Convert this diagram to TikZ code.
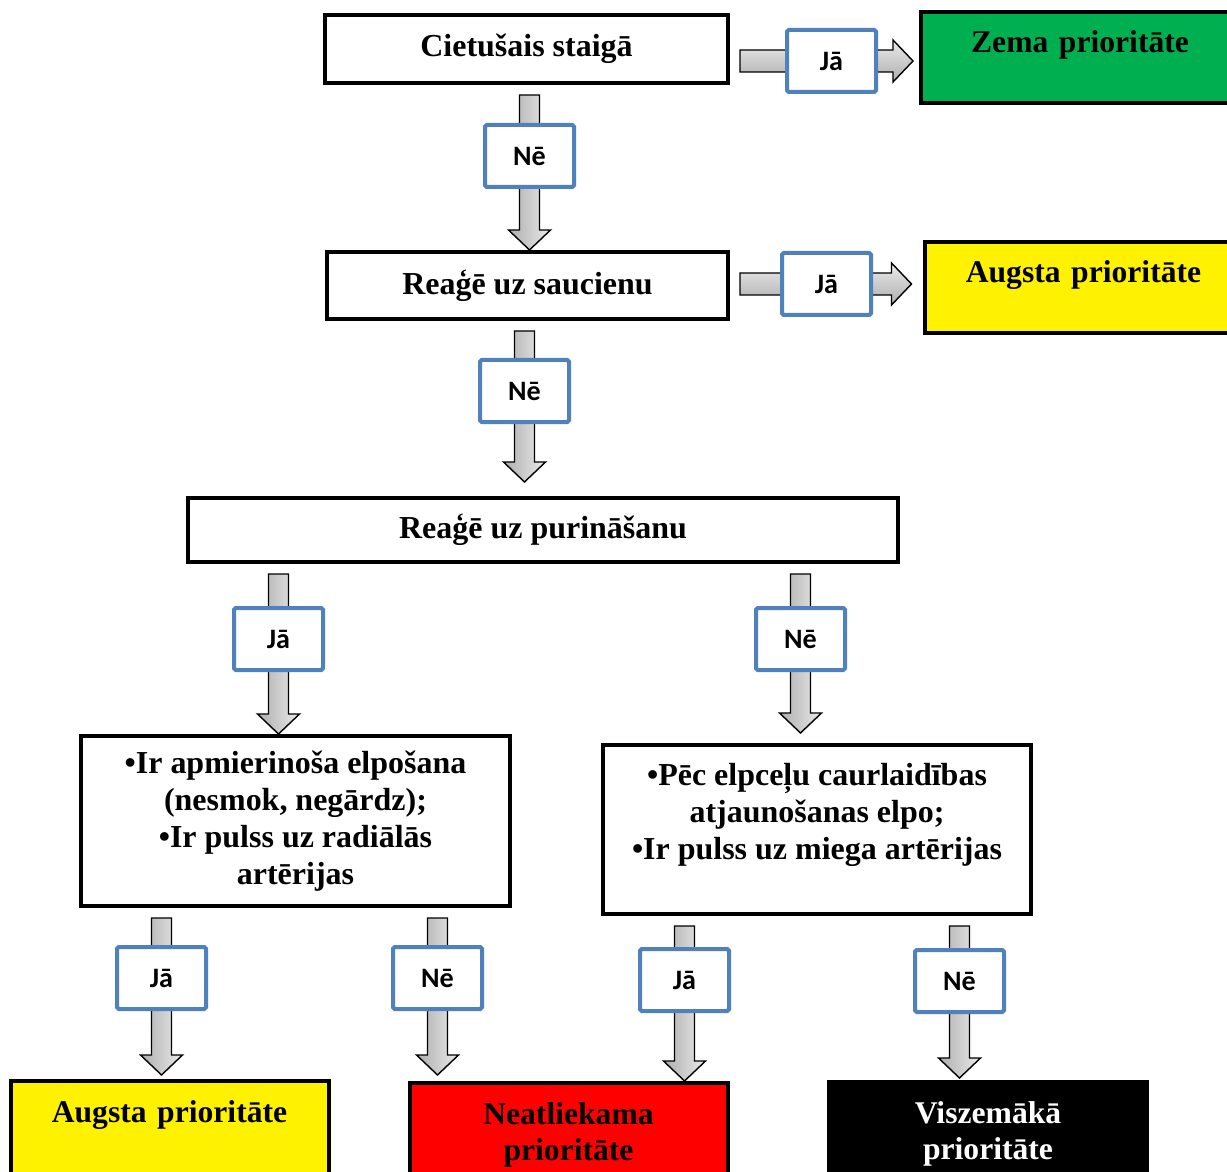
\documentclass[tikz,border=0pt]{standalone}
\usepackage{fontspec}
\setmainfont{Liberation Serif}
\newfontfamily\lblfont{Carlito}
\usetikzlibrary{calc,backgrounds}

\definecolor{lblblue}{HTML}{4F81BD}
\definecolor{zgreen}{HTML}{00B050}
\newcommand{\pxl}{0.02cm}

\tikzset{
  question/.style={draw, line width=4*\pxl, fill=white, align=center, inner sep=0pt,
    font=\bfseries\fontsize{18.2}{21}\selectfont},
  outcome/.style={draw, line width=4*\pxl, anchor=north, inner sep=0pt, align=center,
    minimum width=318*\pxl, text width=310*\pxl, text height=41*\pxl, text depth=50*\pxl,
    font=\bfseries\fontsize{18}{20.5}\selectfont},
  answer/.style={draw=lblblue, line width=4*\pxl, fill=white, rounded corners=1pt,
    minimum width=89*\pxl, minimum height=62*\pxl, inner sep=0pt,
    font=\lblfont\bfseries\fontsize{16}{19}\selectfont},
  downbody/.style={draw=black, line width=0.8pt, left color=black!32, right color=black!8},
  rightbody/.style={draw=black, line width=0.8pt, top color=black!8, bottom color=black!32},
  blockdown/.style={to path={let \p1=(\tikztostart), \p2=(\tikztotarget) in
    (\x1-10*\pxl,\y1-10*\pxl) -- (\x1+10*\pxl,\y1-10*\pxl)
    -- (\x1+10*\pxl,\y2+#1*\pxl+20*\pxl) -- (\x1+21*\pxl,\y2+#1*\pxl+20*\pxl)
    -- (\x1,\y2+#1*\pxl) -- (\x1-21*\pxl,\y2+#1*\pxl+20*\pxl)
    -- (\x1-10*\pxl,\y2+#1*\pxl+20*\pxl) -- cycle}},
  blockdown/.default=0,
  blockright/.style={to path={let \p1=(\tikztostart), \p2=(\tikztotarget) in
    (\x1+10*\pxl,\y1-11*\pxl) -- (\x2-#1*\pxl-20*\pxl,\y1-11*\pxl)
    -- (\x2-#1*\pxl-20*\pxl,\y1-21*\pxl) -- (\x2-#1*\pxl,\y1)
    -- (\x2-#1*\pxl-20*\pxl,\y1+21*\pxl) -- (\x2-#1*\pxl-20*\pxl,\y1+11*\pxl)
    -- (\x1+10*\pxl,\y1+11*\pxl) -- cycle}},
  blockright/.default=0
}

\begin{document}
\begin{tikzpicture}[x=0.02cm, y=-0.02cm]

    \useasboundingbox (0,0) rectangle (1227,1172);
    \clip (0,0) rectangle (1227,1172);

    % Questions
    \node[question, minimum width=403*\pxl, minimum height=68*\pxl] (staiga) at (526.5,49) {Cietušais staigā};
    \node[question, minimum width=401*\pxl, minimum height=67*\pxl] (saucienu) at (527.5,285.5) {Reaģē uz saucienu};
    \node[question, minimum width=710*\pxl, minimum height=64*\pxl] (purina) at (543,530) {Reaģē uz purināšanu};
    \node[question, minimum width=429*\pxl, minimum height=170*\pxl] (elpoL) at (295.5,821)
        {•Ir apmierinoša elpošana\\(nesmok, negārdz);\\•Ir pulss uz radiālās\\artērijas};
    \node[question, minimum width=428*\pxl, minimum height=169*\pxl] (elpoR) at (817,829.5)
        {•Pēc elpceļu caurlaidības\\atjaunošanas elpo;\\•Ir pulss uz miega artērijas\\ \mbox{}};

    % Outcomes
    \node[outcome, fill=zgreen] (zema) at (1080,10) {Zema prioritāte};
    \node[outcome, fill=yellow] (augstaT) at (1083.5,240) {Augsta prioritāte};
    \node[outcome, fill=yellow, text depth=150*\pxl] (augstaB) at (169.5,1079) {Augsta prioritāte};
    \node[outcome, fill=red, text depth=150*\pxl] (neatl) at (568.5,1081) {Neatliekama\\prioritāte};
    \node[outcome, fill=black, text=white, text depth=150*\pxl] (viszem) at (988,1080) {Viszemākā\\prioritāte};

    % Answers
    \node[answer] (ja1) at (831.5,61) {Jā};
    \node[answer] (ne1) at (529.5,156) {Nē};
    \node[answer] (ja2) at (826.5,284) {Jā};
    \node[answer] (ne2) at (524.5,391) {Nē};
    \node[answer] (ja3) at (278.5,639) {Jā};
    \node[answer] (ne3) at (800.5,639) {Nē};
    \node[answer] (ja4) at (161.5,978) {Jā};
    \node[answer] (ne4) at (437.5,978) {Nē};
    \node[answer] (ja5) at (684.5,980) {Jā};
    \node[answer] (ne5) at (959.5,981) {Nē};

    % Block arrows behind the answers
    \begin{scope}[on background layer]
    \draw[rightbody] (staiga.east |- ja1) to[blockright=6] (zema.west |- ja1);
    \draw[rightbody] (saucienu.east |- ja2) to[blockright=11] (augstaT.west |- ja2);
    \draw[downbody] (staiga.south -| ne1) to[blockdown] (saucienu.north -| ne1);
    \draw[downbody] (saucienu.south -| ne2) to[blockdown=14] (purina.north -| ne2);
    \draw[downbody] (purina.south -| ja3) to[blockdown] (elpoL.north -| ja3);
    \draw[downbody] (purina.south -| ne3) to[blockdown=10] (elpoR.north -| ne3);
    \draw[downbody] (elpoL.south -| ja4) to[blockdown=4] (augstaB.north -| ja4);
    \draw[downbody] (elpoL.south -| ne4) to[blockdown=6] (neatl.north -| ne4);
    \draw[downbody] (elpoR.south -| ja5) to[blockdown] (neatl.north -| ja5);
    \draw[downbody] (elpoR.south -| ne5) to[blockdown=2] (viszem.north -| ne5);
    \end{scope}

\end{tikzpicture}
\end{document}
